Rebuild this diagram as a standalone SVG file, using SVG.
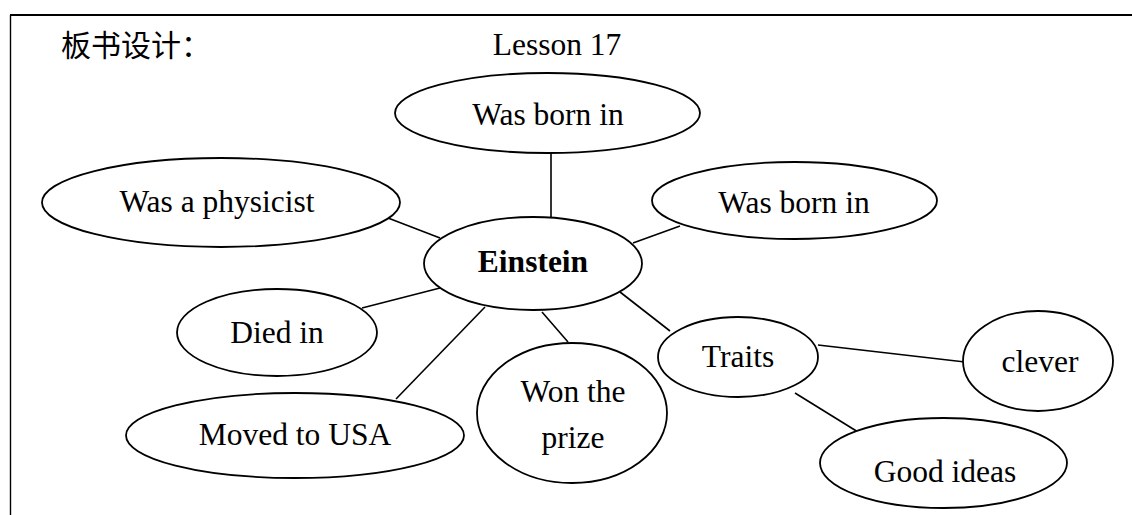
<svg xmlns="http://www.w3.org/2000/svg" width="1132" height="515" viewBox="0 0 1132 515">
<style>
.n ellipse{fill:#fff;stroke:#000;stroke-width:1.8}
.t{font-family:"Liberation Serif","Times New Roman",serif;font-size:31.5px;fill:#000;text-anchor:middle}
.b{font-weight:bold}
.cn{font-family:"Noto Sans CJK SC",sans-serif;font-size:30px;fill:#000}
#connectors line{stroke:#000;stroke-width:1.6}
</style>
<rect width="1132" height="515" fill="#fff"/>
<g id="frame">
<line x1="10" y1="15" x2="1132" y2="15" stroke="#000" stroke-width="2.2"/>
<line x1="10.5" y1="15" x2="10.5" y2="515" stroke="#000" stroke-width="1.4"/>
</g>
<text class="cn" x="61" y="56">板书设计：</text>
<text class="t" x="557" y="55">Lesson 17</text>
<g id="connectors">
<line x1="551" y1="152" x2="551" y2="217"/>
<line x1="388" y1="218" x2="440" y2="238"/>
<line x1="680" y1="226" x2="633" y2="243"/>
<line x1="362" y1="308" x2="440" y2="288"/>
<line x1="396" y1="399" x2="485" y2="307"/>
<line x1="542" y1="312" x2="568" y2="342"/>
<line x1="620" y1="292" x2="670" y2="331"/>
<line x1="818" y1="345" x2="965" y2="362"/>
<line x1="795" y1="393" x2="858" y2="432"/>
</g>
<g id="born1" class="n"><ellipse cx="547.5" cy="113" rx="152.5" ry="40"/><text class="t" x="548" y="125">Was born in</text></g>
<g id="physicist" class="n"><ellipse cx="221" cy="202.5" rx="179" ry="44.5"/><text class="t" x="217" y="212">Was a physicist</text></g>
<g id="born2" class="n"><ellipse cx="794.5" cy="200.5" rx="142.5" ry="38.5"/><text class="t" x="794" y="213">Was born in</text></g>
<g id="einstein" class="n"><ellipse cx="533" cy="263.5" rx="109" ry="46.5"/><text class="t b" x="533" y="272">Einstein</text></g>
<g id="died" class="n"><ellipse cx="277" cy="332.5" rx="100" ry="43.5"/><text class="t" x="277" y="343">Died in</text></g>
<g id="moved" class="n"><ellipse cx="295" cy="435.5" rx="169" ry="42.5"/><text class="t" x="295" y="445">Moved to USA</text></g>
<g id="won" class="n"><ellipse cx="572" cy="413" rx="95" ry="70"/><text class="t" x="573" y="402">Won the</text><text class="t" x="573" y="448">prize</text></g>
<g id="traits" class="n"><ellipse cx="738" cy="357" rx="80" ry="40"/><text class="t" x="738" y="367">Traits</text></g>
<g id="clever" class="n"><ellipse cx="1038" cy="361" rx="75" ry="50"/><text class="t" x="1040" y="372">clever</text></g>
<g id="good" class="n"><ellipse cx="943.5" cy="463" rx="123.5" ry="45"/><text class="t" x="945" y="482">Good ideas</text></g>
</svg>
